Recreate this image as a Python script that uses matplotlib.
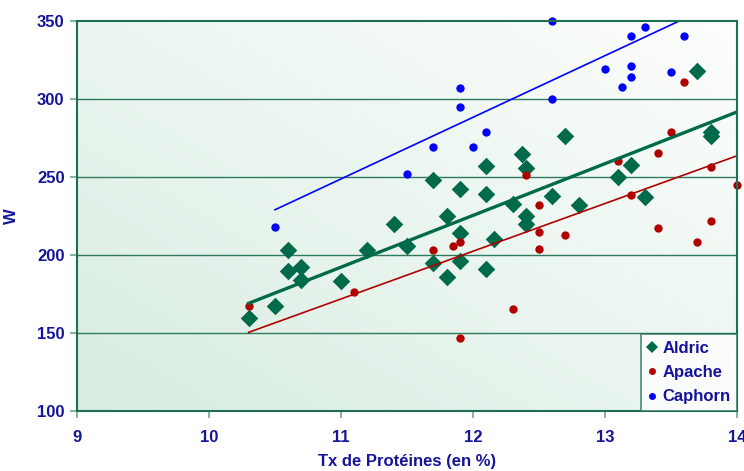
import numpy as np
import matplotlib
matplotlib.use("Agg")
import matplotlib.pyplot as plt
from matplotlib.lines import Line2D

# ---- data ----
aldric_x = [10.3, 10.5, 10.6, 10.6, 10.7, 10.7, 11.0, 11.2, 11.4, 11.5, 11.7, 11.7, 11.8, 11.8,
            11.9, 11.9, 11.9, 12.1, 12.1, 12.1, 12.16, 12.3, 12.37, 12.4, 12.4, 12.4, 12.6,
            12.7, 12.8, 13.1, 13.2, 13.3, 13.7, 13.8, 13.8]
aldric_y = [159.5, 167, 203.5, 189.5, 192.5, 184, 183.5, 203.5, 220, 206, 248, 195, 225, 186,
            242, 214, 196, 257, 239, 191, 210, 233, 265, 256, 225, 220, 238,
            276, 232, 250, 258, 237, 318, 279, 276]

apache_x = [10.3, 11.1, 11.7, 11.85, 11.9, 11.9, 12.3, 12.4, 12.5, 12.5, 12.5, 12.7, 13.1,
            13.2, 13.4, 13.4, 13.5, 13.6, 13.7, 13.8, 13.8, 14.0]
apache_y = [167, 176, 203, 206, 208.5, 147, 165.5, 251, 232, 215, 204, 213, 260.5,
            238.5, 265.5, 217, 279, 311, 208.5, 256.5, 222, 245]

caphorn_x = [10.5, 11.5, 11.7, 11.9, 11.9, 12.0, 12.1, 12.6, 12.6, 13.0, 13.13, 13.2, 13.2,
             13.2, 13.3, 13.5, 13.6]
caphorn_y = [218, 252, 269, 307, 295, 269.5, 279, 350, 300, 319, 308, 340.5, 321,
             314, 346, 317, 340.5]

# trend lines (x range, y at ends)
aldric_trend_x = [10.3, 14.0]
aldric_trend_y = [169.0, 291.7]
apache_trend_x = [10.3, 14.0]
apache_trend_y = [150.4, 263.6]
caphorn_trend_x = [10.5, 14.0]
caphorn_trend_y = [229.0, 367.3]

series_names = ["Aldric", "Apache", "Caphorn"]
x_ticks = [9, 10, 11, 12, 13, 14]
y_ticks = [100, 150, 200, 250, 300, 350]
x_label = "Tx de Protéines (en %)"
y_label = "W"

# ---- style ----
plt.rcParams['font.family'] = ['Liberation Sans', 'DejaVu Sans']
NAVY = "#14149A"
DKGREEN = "#1E6E52"
GRID = "#2F7A5C"
C_ALD = "#006A4A"
C_APA = "#B00000"
C_CAP = "#0000FF"

fig = plt.figure(figsize=(7.44, 4.71), dpi=100)
ax = fig.add_axes([77/744, 1 - 411/471, (737-77)/744, (411-21)/471])

# gradient background: white top-right -> light green bottom-left
n = 256
gx, gy = np.meshgrid(np.linspace(0, 1, n), np.linspace(0, 1, n))
t = np.clip(((1 - gx) + gy) / 2, 0, 1)  # row 0 = top (origin upper)
c0 = np.array([253, 254, 253]) / 255
c1 = np.array([216, 237, 225]) / 255
img = c0[None, None, :] * (1 - t[..., None]) + c1[None, None, :] * t[..., None]
ax.imshow(img, extent=[9, 14, 100, 350], aspect='auto', origin='upper', zorder=0)

ax.set_xlim(9, 14)
ax.set_ylim(100, 350)

for yv in y_ticks[1:-1]:
    ax.axhline(yv, color=GRID, lw=1.0, zorder=1)

ax.scatter(aldric_x, aldric_y, marker='D', s=80, color=C_ALD, linewidths=0, zorder=3, clip_on=False)
ax.scatter(apache_x, apache_y, marker='o', s=36, color=C_APA, linewidths=0, zorder=4, clip_on=False)
ax.scatter(caphorn_x, caphorn_y, marker='o', s=36, color=C_CAP, linewidths=0, zorder=5, clip_on=False)

ax.plot(aldric_trend_x, aldric_trend_y, color=C_ALD, lw=2.4, zorder=6)
ax.plot(apache_trend_x, apache_trend_y, color=C_APA, lw=1.2, zorder=6)
ax.plot(caphorn_trend_x, caphorn_trend_y, color=C_CAP, lw=1.2, zorder=6)

for sp in ax.spines.values():
    sp.set_color(DKGREEN)
    sp.set_linewidth(1.5)
    sp.set_zorder(7)

ax.set_xticks(x_ticks)
ax.set_yticks(y_ticks)
ax.tick_params(axis='both', colors="#6FA98E", length=5, width=1.2, labelcolor=NAVY,
               labelsize=12, direction='out')
for lab in ax.get_xticklabels() + ax.get_yticklabels():
    lab.set_fontweight('bold')
ax.tick_params(axis='x', pad=9)
ax.tick_params(axis='y', pad=4)

ax.set_xlabel(x_label, fontsize=12, fontweight='bold', color=NAVY, labelpad=6)
ax.set_ylabel(y_label, fontsize=12, fontweight='bold', color=NAVY, labelpad=13)

handles = [
    Line2D([], [], marker='D', color=C_ALD, ls='none', markersize=6.5, markeredgewidth=0),
    Line2D([], [], marker='o', color=C_APA, ls='none', markersize=5, markeredgewidth=0),
    Line2D([], [], marker='o', color=C_CAP, ls='none', markersize=5, markeredgewidth=0),
]
leg = ax.legend(handles, series_names, loc='lower right', borderaxespad=0, fancybox=False,
                frameon=True, handlelength=0.6, handletextpad=0.3, labelspacing=0.55,
                borderpad=0.4, prop={'weight': 'bold', 'size': 12})
leg.get_frame().set_edgecolor(DKGREEN)
leg.get_frame().set_linewidth(1.2)
leg.get_frame().set_facecolor((1, 1, 1, 0.0))
leg.set_zorder(8)
for txt in leg.get_texts():
    txt.set_color(NAVY)

fig.savefig("out.png", dpi=100, facecolor='white')
